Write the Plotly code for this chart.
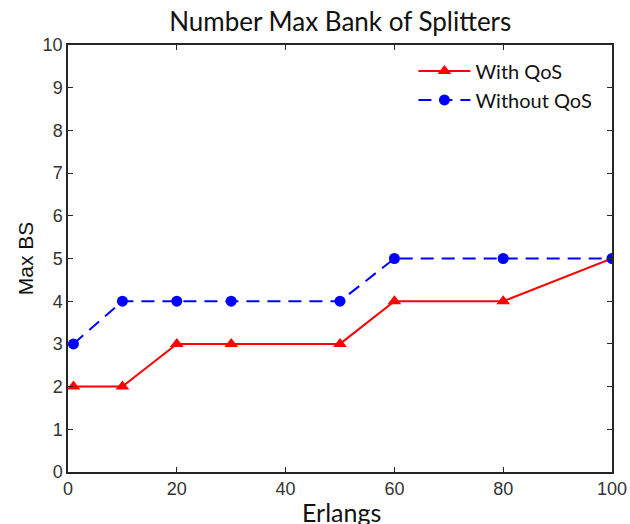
import plotly.graph_objects as go

erlangs = [1, 10, 20, 30, 50, 60, 80, 100]
with_qos = [2, 2, 3, 3, 3, 4, 4, 5]
without_qos = [3, 4, 4, 4, 4, 5, 5, 5]

x_ticks = [0, 20, 40, 60, 80, 100]
y_ticks = list(range(0, 11))

fig = go.Figure()
fig.add_trace(go.Scatter(
    x=erlangs, y=with_qos, name="With QoS", mode="lines+markers",
    line=dict(color="#ff0000", width=2),
    marker=dict(symbol="triangle-up", size=12, color="#ff0000"),
))
fig.add_trace(go.Scatter(
    x=erlangs, y=without_qos, name="Without QoS", mode="lines+markers",
    line=dict(color="#0000ff", width=2, dash="13px,8px"),
    marker=dict(symbol="circle", size=11, color="#0000ff"),
))

axis_common = dict(
    showgrid=False, zeroline=False, showline=True, linecolor="#262626",
    linewidth=1.5, mirror="ticks", ticks="inside", ticklen=5, tickwidth=1,
    tickcolor="#262626", automargin=False,
    tickfont=dict(family="Liberation Sans, Arial", size=18, color="#333333"),
)

fig.update_layout(
    width=630, height=524,
    margin=dict(l=68, r=18, t=45, b=52),
    paper_bgcolor="white", plot_bgcolor="white",
    title=dict(text="Number Max Bank of Splitters", x=0.54, xanchor="center",
               y=0.958, yanchor="middle",
               font=dict(family="Lato, Open Sans", size=26, color="#111111")),
    xaxis=dict(range=[0, 100], tickvals=x_ticks, **axis_common),
    yaxis=dict(range=[0, 10], tickvals=y_ticks, **axis_common,
               title=dict(text="Max BS", standoff=3,
                          font=dict(family="Liberation Sans, Arial", size=21, color="#111111"))),
    legend=dict(x=0.635, y=0.985, xanchor="left", yanchor="top",
                bgcolor="rgba(0,0,0,0)", borderwidth=0,
                font=dict(family="Lato, Open Sans", size=20, color="#111111"),
                itemwidth=52, tracegroupgap=0),
    annotations=[dict(text="Erlangs", xref="paper", yref="paper", x=0.502, y=-0.093,
                      xanchor="center", yanchor="middle", showarrow=False,
                      font=dict(family="Lato, Open Sans", size=25, color="#111111"))],
    showlegend=True,
)

fig.write_html("out.html")
